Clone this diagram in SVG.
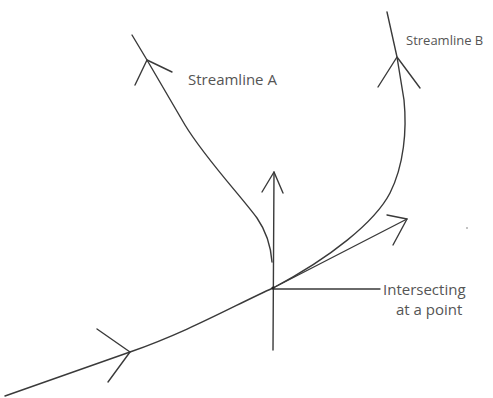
<svg xmlns="http://www.w3.org/2000/svg" width="493" height="398" viewBox="0 0 493 398">
<style>
.ln{fill:none;stroke:#3a3a3a;stroke-width:1.4;stroke-linecap:round;stroke-linejoin:round}
.lb{font-family:"Open Sans","Liberation Sans",sans-serif;font-size:15px;fill:#555}
.lbs{font-size:13px}
</style>
<rect width="493" height="398" fill="#fff"/>
<g id="connectors">
<path class="ln" d="M5,396 L130,352 C190,331 235,305 273,288"/>
<path class="ln" d="M97,329 L130,352 L108,382"/>
<path class="ln" d="M273,288 C330,258 375,222 390,193 C404,165 407,130 404,100 L397,57 L387,12"/>
<path class="ln" d="M378,87 L397,57 L420,88"/>
<path class="ln" d="M132,35 L147,60 L185,125 C205,158 240,195 257,218 C266,231 271,248 272,262"/>
<path class="ln" d="M135,85 L147,60 L172,72"/>
<path class="ln" d="M273,350 L274,172"/>
<path class="ln" d="M262,192 L274,172 L283,193"/>
<path class="ln" d="M273,288 L407,219"/>
<path class="ln" d="M387,215 L407,219 L393,245"/>
<path class="ln" d="M273,289 L380,289"/>
<circle cx="273" cy="288" r="1.6" fill="#222"/>
<circle cx="467" cy="228" r="0.8" fill="#777"/>
</g>
<g id="label-a"><text class="lb" x="188" y="85">Streamline A</text></g>
<g id="label-b"><text class="lb lbs" x="406" y="45">Streamline B</text></g>
<g id="label-point"><text class="lb" x="383" y="295">Intersecting</text><text class="lb" x="396" y="315">at a point</text></g>
</svg>
